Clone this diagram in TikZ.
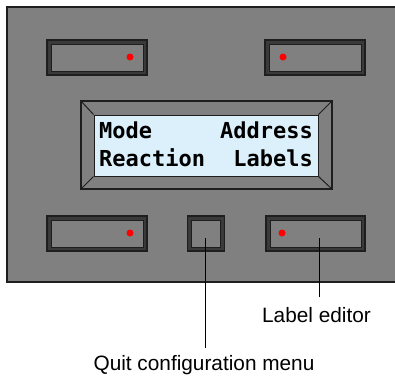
\documentclass[tikz,border=0pt]{standalone}
\usepackage{fontspec}
\setmainfont{Liberation Sans}
\newfontfamily\lcdfont{DejaVu Sans Mono}
\definecolor{panelgray}{HTML}{808080}
\definecolor{edge}{HTML}{1E1E1E}
\definecolor{band}{HTML}{3A3A3A}
\definecolor{lcd}{HTML}{DCF0FC}
\begin{document}
\begin{tikzpicture}[x=1pt,y=-1pt,
  btnouter/.style={rectangle, draw=edge, line width=1.3pt, fill=band, inner sep=0pt, minimum height=35pt},
  btninner/.style={rectangle, draw=edge, line width=0.9pt, fill=panelgray, inner sep=0pt, minimum height=27pt},
  led/.style={circle, fill=red, inner sep=0pt, minimum size=7pt},
  lcdtext/.style={inner sep=0pt, font=\lcdfont\bfseries\fontsize{22}{26}\selectfont},
  caption/.style={inner sep=0pt, font=\fontsize{20.8}{24}\selectfont},
  leader/.style={draw=black, line width=0.8pt}]
\path[use as bounding box] (0,0) rectangle (395,376);
\clip (0,0) rectangle (395,376);
% panel
\fill[panelgray] (7,7) rectangle (400,282);
\draw[edge, line width=2pt] (400,7) -- (7,7) -- (7,282) -- (400,282);
% top buttons
\node[btnouter, minimum width=100pt] (tlo) at (97,57.5) {};
\node[btninner, minimum width=92pt] (tl) at (tlo.center) {};
\node[led] (tld) at (130,57) {};
\node[btnouter, minimum width=100pt] (tro) at (315,57.5) {};
\node[btninner, minimum width=92pt] (tr) at (tro.center) {};
\node[led] (trd) at (283,57) {};
% display
\node[rectangle, draw=edge, line width=1.3pt, fill=panelgray, inner sep=0pt, minimum width=251pt, minimum height=88pt] (dispo) at (206.5,145) {};
\node[rectangle, draw=edge, line width=1pt, fill=lcd, inner sep=0pt, minimum width=224pt, minimum height=61pt] (dispi) at (206,145.5) {};
\draw[edge, line width=1pt] (dispo.north west) -- (dispi.north west);
\draw[edge, line width=1pt] (dispo.north east) -- (dispi.north east);
\draw[edge, line width=1pt] (dispo.south west) -- (dispi.south west);
\draw[edge, line width=1pt] (dispo.south east) -- (dispi.south east);
\node[lcdtext, anchor=base west] (mode) at (99,138) {Mode};
\node[lcdtext, anchor=base east] (addr) at (313,138) {Address};
\node[lcdtext, anchor=base west] (react) at (99,166) {Reaction};
\node[lcdtext, anchor=base east] (labels) at (313,166) {Labels};
% bottom buttons
\node[btnouter, minimum width=100pt] (blo) at (97,233.5) {};
\node[btninner, minimum width=92pt] (bl) at (blo.center) {};
\node[led] (bld) at (130,233) {};
\node[btnouter, minimum width=37pt] (bmo) at (206,233.5) {};
\node[btninner, minimum width=29pt] (bm) at (bmo.center) {};
\node[btnouter, minimum width=99pt] (bro) at (315.5,233.5) {};
\node[btninner, minimum width=91pt] (br) at (bro.center) {};
\node[led] (brd) at (282,233) {};
% captions and leaders
\node[caption, anchor=base] (labed) at (316.5,322) {Label editor};
\node[caption, anchor=base] (quit) at (204,370) {Quit configuration menu};
\coordinate (labend) at (319,297);
\coordinate (quitend) at (205,348);
\draw[leader, shorten <=4.5pt] (labend |- br.center) -- (labend);
\draw[leader, shorten <=4.5pt] (quitend |- bm.center) -- (quitend);
\end{tikzpicture}
\end{document}
